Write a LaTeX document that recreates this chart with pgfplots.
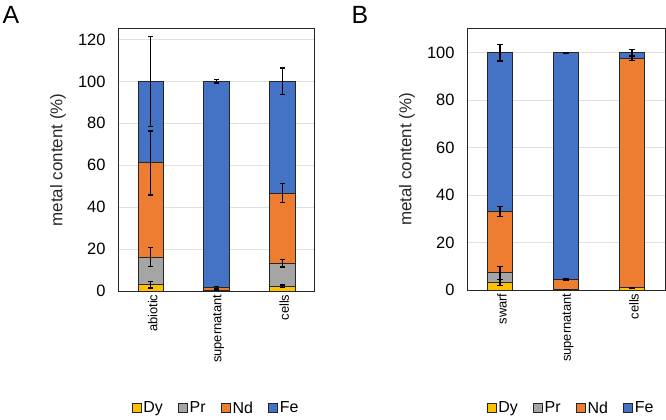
\documentclass[border=0pt]{standalone}
\usepackage{fontspec}
\setmainfont{Liberation Sans}
\usepackage{pgfplots}
\pgfplotsset{compat=1.18}
\definecolor{cDy}{HTML}{FFC000}
\definecolor{cPr}{HTML}{A5A5A5}
\definecolor{cNd}{HTML}{ED7D31}
\definecolor{cFe}{HTML}{4472C4}
\definecolor{gridc}{HTML}{E0E0E0}
\definecolor{edge}{HTML}{262626}
\pgfplotsset{
  panel/.style={scale only axis, ybar stacked, bar width=0.39, xmin=-0.5, xmax=2.5, ymin=0,
    xtick={0,1,2}, ytick distance=20, major tick length=0, ymajorgrids,
    grid style={gridc, line width=0.9bp}, axis line style={edge, line width=1bp},
    /pgf/number format/assume math mode=true,
    yticklabel style={font=\fontsize{16.5}{18}\selectfont, xshift=-9bp},
    xticklabel style={rotate=90, anchor=east, font=\fontsize{13}{15}\selectfont, yshift=-2bp},
    ylabel={metal content (\%)}, ylabel style={font=\fontsize{17}{19}\selectfont, text=black!85},
    legend columns=4,
    legend style={draw=none, fill=none, anchor=center,
      nodes={font=\fontsize{16}{18}\selectfont, inner sep=1.5bp},
      /tikz/every even column/.append style={column sep=14bp}},
  },
  s/.style={fill=#1, draw=edge, line width=0.9bp,
    error bars/y dir=both, error bars/y explicit,
    error bars/error bar style={black, line width=1.3bp},
    error bars/error mark options={rotate=90, mark size=2.6bp, black, line width=1.3bp},
    legend image code/.code={\draw[fill=#1, draw=edge, line width=0.9bp] (0bp,-4.5bp) rectangle (9bp,4.5bp);}},
}
\begin{document}
\begin{tikzpicture}
\path[use as bounding box] (0,0) rectangle (666bp,420bp);
\node[font=\fontsize{25}{27}\selectfont, anchor=center] at (11bp,405bp) {A};
\node[font=\fontsize{25}{27}\selectfont, anchor=center] at (360bp,405bp) {B};

\begin{axis}[panel, at={(118bp,129bp)}, anchor=south west, width=197bp, height=262bp, ymax=125,
  xticklabels={abiotic,supernatant,cells},
  ylabel style={at={(axis description cs:-0.305,0.5)}, anchor=center},
  legend style={at={(axis description cs:0.497,-0.447)}}]
\addplot+[s=cDy] coordinates {(0,3.0) +- (0,1.5) (1,0.1) +- (0,0.1) (2,2.3) +- (0,0.5)};
\addplot+[s=cPr] coordinates {(0,13.2) +- (0,4.6) (1,0.1) +- (0,0.1) (2,10.9) +- (0,1.7)};
\addplot+[s=cNd] coordinates {(0,44.9) +- (0,15.3) (1,1.4) +- (0,0.6) (2,33.5) +- (0,4.6)};
\addplot+[s=cFe] coordinates {(0,38.9) +- (0,21.5) (1,98.4) +- (0,0.8) (2,53.3) +- (0,6.4)};
\legend{Dy,Pr,Nd,Fe}
\end{axis}

\begin{axis}[panel, at={(467bp,130bp)}, anchor=south west, width=198bp, height=261bp, ymax=110,
  xticklabels={swarf,supernatant,cells},
  ylabel style={at={(axis description cs:-0.303,0.5)}, anchor=center},
  legend style={at={(axis description cs:0.525,-0.452)}}]
\addplot+[s=cDy] coordinates {(0,3.1) +- (0,1.3) (1,0.2) +- (0,0.05) (2,0.9) +- (0,0.3)};
\addplot+[s=cPr] coordinates {(0,4.1) +- (0,2.7) (1,0.1) +- (0,0.05) (2,0.1) +- (0,0.1)};
\addplot+[s=cNd] coordinates {(0,25.8) +- (0,2.1) (1,4.1) +- (0,0.2) (2,96.6) +- (0,1.0)};
\addplot+[s=cFe] coordinates {(0,67.0) +- (0,3.5) (1,95.6) +- (0,0.2) (2,2.4) +- (0,1.5)};
\legend{Dy,Pr,Nd,Fe}
\end{axis}
\end{tikzpicture}
\end{document}
